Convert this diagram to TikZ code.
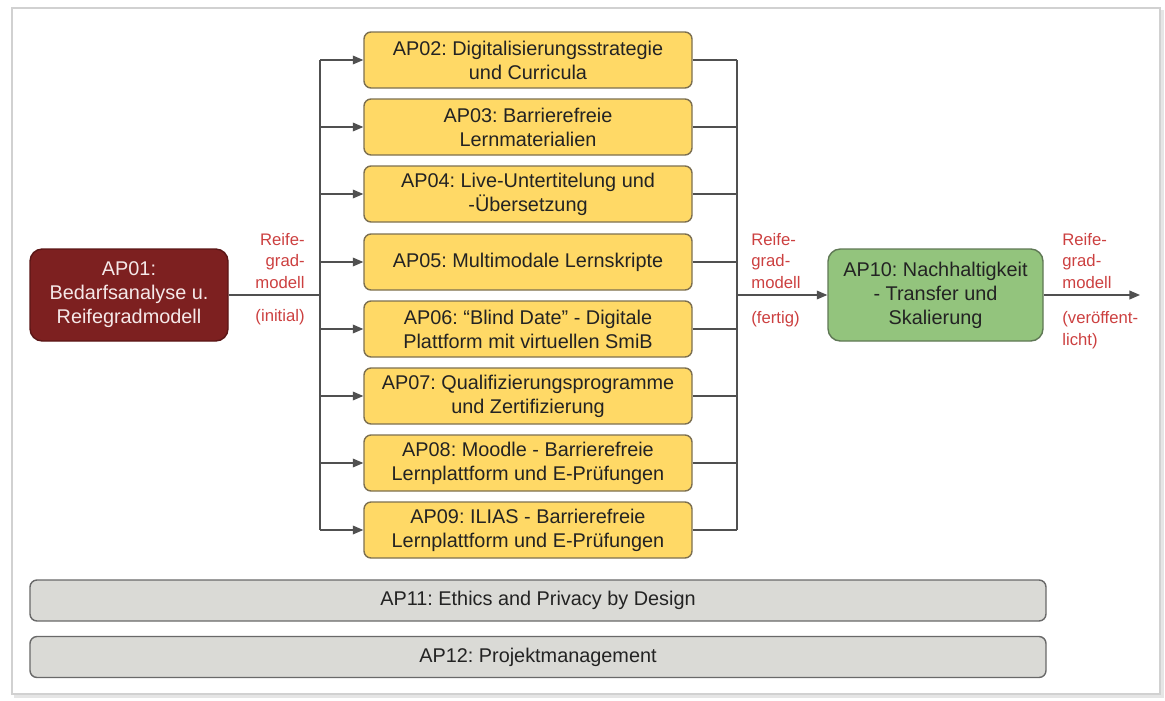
\documentclass[tikz,border=0pt]{standalone}
\usepackage{fontspec}
\setmainfont{Liberation Sans}
\usepackage{xcolor}
\usepackage{tikz}
\usetikzlibrary{arrows.meta}
\frenchspacing

\definecolor{apred}{RGB}{125,32,32}
\definecolor{apredline}{RGB}{90,22,22}
\definecolor{apredtext}{RGB}{245,232,232}
\definecolor{apyellow}{RGB}{255,217,102}
\definecolor{apyellowline}{RGB}{125,112,80}
\definecolor{apgreen}{RGB}{147,196,125}
\definecolor{apgreenline}{RGB}{95,120,85}
\definecolor{apgray}{RGB}{218,218,214}
\definecolor{apgrayline}{RGB}{105,105,105}
\definecolor{aptext}{RGB}{35,35,35}
\definecolor{aplabel}{RGB}{204,64,64}
\definecolor{apline}{RGB}{80,80,80}

\begin{document}
\begin{tikzpicture}[
            wp/.style={rectangle, rounded corners=4pt, draw, line width=0.8pt, align=center, font=\fontsize{11.3}{13.6}\selectfont, inner sep=2pt},
            wp_start/.style={wp, fill=apred, draw=apredline, text=apredtext, minimum width=3.96cm, minimum height=1.84cm, rounded corners=7pt},
            wp_mid/.style={wp, fill=apyellow, draw=apyellowline, text=aptext, minimum width=6.56cm, minimum height=1.12cm},
            wp_end/.style={wp, fill=apgreen, draw=apgreenline, text=aptext, minimum width=4.3cm, minimum height=1.84cm, rounded corners=7pt},
            wp_cross/.style={wp, fill=apgray, draw=apgrayline, text=aptext, minimum width=20.32cm, minimum height=0.82cm},
            lbl/.style={align=left, font=\fontsize{9.5}{12.5}\selectfont, text=aplabel, inner sep=0pt},
            flow/.style={draw=apline, line width=0.7pt},
            flowarrow/.style={flow, -{Triangle[length=6pt,width=5pt]}},
            frame/.style={draw=black!18, line width=0.8pt}
        ]

    \useasboundingbox (0,0) rectangle (23.3,-14);
    \draw[black!10, line width=2pt] (23.25,-0.2) -- (23.25,-13.92) -- (0.28,-13.92);
    \draw[frame] (0.24,-0.16) rectangle (23.2,-13.88);

    \node[wp_start] (ap01) at (2.58,-5.9)  {AP01:\\Bedarfsanalyse u.\\Reifegradmodell};

    \node[wp_mid] (ap02) at (10.56,-1.2)   {AP02: Digitalisierungsstrategie\\und Curricula};
    \node[wp_mid] (ap03) at (10.56,-2.54)  {AP03: Barrierefreie\\Lernmaterialien};
    \node[wp_mid] (ap04) at (10.56,-3.88)  {AP04: Live-Untertitelung und\\-Übersetzung};
    \node[wp_mid] (ap05) at (10.56,-5.24)  {AP05: Multimodale Lernskripte};
    \node[wp_mid] (ap06) at (10.56,-6.58)  {AP06: “Blind Date” - Digitale\\Plattform mit virtuellen SmiB};
    \node[wp_mid] (ap07) at (10.56,-7.92)  {AP07: Qualifizierungsprogramme\\und Zertifizierung};
    \node[wp_mid] (ap08) at (10.56,-9.26)  {AP08: Moodle - Barrierefreie\\Lernplattform und E-Prüfungen};
    \node[wp_mid] (ap09) at (10.56,-10.6)  {AP09: ILIAS - Barrierefreie\\Lernplattform und E-Prüfungen};

    \node[wp_end] (ap10) at (18.71,-5.9)   {AP10: Nachhaltigkeit\\- Transfer und\\Skalierung};

    \node[wp_cross] (ap11) at (10.76,-12.01) {AP11: Ethics and Privacy by Design};
    \node[wp_cross] (ap12) at (10.76,-13.14) {AP12: Projektmanagement};

    \coordinate (split) at (6.4,-5.9);
    \coordinate (merge) at (14.74,-5.9);
    \coordinate (out)   at (22.8,-5.9);

    \draw[flow] (ap01) -- (split);
    \draw[flow] (split |- ap02) -- (split |- ap09);
    \draw[flowarrow] (split |- ap02) -- (ap02);
    \draw[flowarrow] (split |- ap03) -- (ap03);
    \draw[flowarrow] (split |- ap04) -- (ap04);
    \draw[flowarrow] (split |- ap05) -- (ap05);
    \draw[flowarrow] (split |- ap06) -- (ap06);
    \draw[flowarrow] (split |- ap07) -- (ap07);
    \draw[flowarrow] (split |- ap08) -- (ap08);
    \draw[flowarrow] (split |- ap09) -- (ap09);

    \draw[flow] (ap02) -- (merge |- ap02);
    \draw[flow] (ap03) -- (merge |- ap03);
    \draw[flow] (ap04) -- (merge |- ap04);
    \draw[flow] (ap05) -- (merge |- ap05);
    \draw[flow] (ap06) -- (merge |- ap06);
    \draw[flow] (ap07) -- (merge |- ap07);
    \draw[flow] (ap08) -- (merge |- ap08);
    \draw[flow] (ap09) -- (merge |- ap09);
    \draw[flow] (merge |- ap02) -- (merge |- ap09);
    \draw[flowarrow] (merge) -- (ap10);
    \draw[flowarrow] (ap10) -- (out);

    \node[lbl, align=right, anchor=east] (in_top)  at (6.1,-5.22)   {Reife-\\grad-\\modell};
    \node[lbl, align=right, anchor=east] (in_bot)  at (6.1,-6.34)   {(initial)};
    \node[lbl, anchor=west]              (mid_top) at (15.02,-5.22) {Reife-\\grad-\\modell};
    \node[lbl, anchor=west]              (mid_bot) at (15.02,-6.38) {(fertig)};
    \node[lbl, anchor=west]              (out_top) at (21.24,-5.22) {Reife-\\grad-\\modell};
    \node[lbl, anchor=west]              (out_bot) at (21.24,-6.6)  {(veröffent-\\licht)};

        \end{tikzpicture}
\end{document}
